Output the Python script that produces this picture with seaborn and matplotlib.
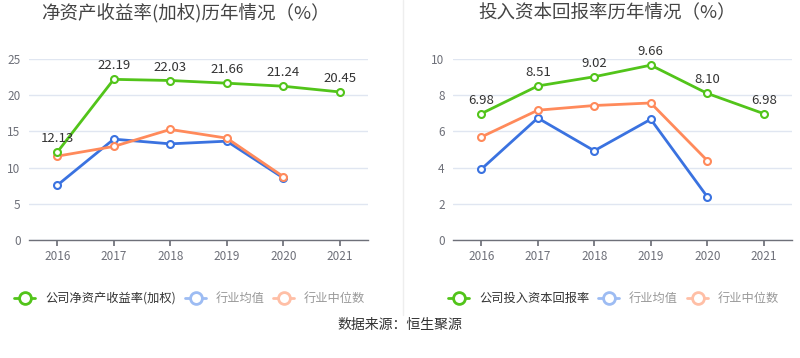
import matplotlib
matplotlib.use("Agg")
import matplotlib.pyplot as plt
from matplotlib.lines import Line2D
import seaborn as sns
import pandas as pd

years = ["2016", "2017", "2018", "2019", "2020", "2021"]
ind_years = ["2016", "2017", "2018", "2019", "2020"]

roe_company = [12.13, 22.19, 22.03, 21.66, 21.24, 20.45]
roe_ind_mean = [7.56, 13.93, 13.28, 13.65, 8.58]
roe_ind_median = [11.58, 12.92, 15.27, 14.07, 8.76]

roic_company = [6.98, 8.51, 9.02, 9.66, 8.10, 6.98]
roic_ind_mean = [3.91, 6.74, 4.93, 6.67, 2.39]
roic_ind_median = [5.69, 7.17, 7.43, 7.57, 4.39]

left_title = "净资产收益率(加权)历年情况（%）"
right_title = "投入资本回报率历年情况（%）"
left_names = ["公司净资产收益率(加权)", "行业均值", "行业中位数"]
right_names = ["公司投入资本回报率", "行业均值", "行业中位数"]
source = "数据来源：恒生聚源"

GREEN = "#52c41a"
BLUE = "#3a72e0"
ORANGE = "#ff8a5b"
GREEN_L = "#52c41a"
BLUE_L = "#9dbcf3"
ORANGE_L = "#ffbfa6"

sns.set_theme(style="white")
plt.rcParams['font.family'] = ['Noto Sans CJK SC', 'DejaVu Sans']

W, H = 800, 358
fig = plt.figure(figsize=(8, 3.58), dpi=100)

def make_df(company, mean, median, names):
    rows = []
    for y, v in zip(years, company):
        rows.append((y, v, names[0]))
    for y, v in zip(ind_years, mean):
        rows.append((y, v, names[1]))
    for y, v in zip(ind_years, median):
        rows.append((y, v, names[2]))
    return pd.DataFrame(rows, columns=["year", "value", "series"])

def draw(ax, company, mean, median, names, ymax, yticks, title, title_x):
    df = make_df(company, mean, median, names)
    df["year"] = pd.Categorical(df["year"], categories=years, ordered=True)
    df["xpos"] = df["year"].cat.codes
    order = [names[1], names[2], names[0]]
    pal = {names[0]: GREEN, names[1]: BLUE, names[2]: ORANGE}
    for nm in order:
        sub = df[df["series"] == nm]
        sns.lineplot(data=sub, x="xpos", y="value", ax=ax, color=pal[nm],
                     linewidth=2, marker="o", markersize=5,
                     markerfacecolor="white", markeredgecolor=pal[nm],
                     markeredgewidth=1.5, legend=False, zorder=3)
    for i, v in enumerate(company):
        ax.annotate(f"{v:.2f}", (i, v), xytext=(0, 5), textcoords="offset points",
                    ha="center", va="bottom", fontsize=9.5, color="#333333")
    ax.set_xlim(-0.5, len(years) - 0.5)
    ax.set_ylim(0, ymax)
    ax.set_yticks(yticks)
    ax.set_xticks(range(len(years)))
    ax.set_xticklabels(years)
    ax.set_xlabel("")
    ax.set_ylabel("")
    ax.grid(axis="y", color="#e0e6f1", linewidth=1)
    ax.set_axisbelow(True)
    for s in ["top", "right", "left"]:
        ax.spines[s].set_visible(False)
    ax.spines["bottom"].set_color("#6e7079")
    ax.spines["bottom"].set_linewidth(1)
    ax.tick_params(axis="x", length=4, color="#6e7079", labelsize=8.5,
                   labelcolor="#6e7079", pad=3, bottom=True)
    ax.tick_params(axis="y", length=0, labelsize=8.5, labelcolor="#6e7079", pad=6)
    fig.text(title_x, 1 - 13 / H, title, ha="center", va="center",
             fontsize=13.3, color="#444444")

ax1 = fig.add_axes([29 / W, 1 - 240 / H, 339 / W, 181 / H])
ax2 = fig.add_axes([453 / W, 1 - 240 / H, 339 / W, 181 / H])

draw(ax1, roe_company, roe_ind_mean, roe_ind_median, left_names, 25,
     [0, 5, 10, 15, 20, 25], left_title, 185 / W)
draw(ax2, roic_company, roic_ind_mean, roic_ind_median, right_names, 10,
     [0, 2, 4, 6, 8, 10], right_title, 607 / W)

# separator
fig.add_artist(Line2D([403 / W, 403 / W], [1.0, 1 - 315 / H],
                      transform=fig.transFigure, color="#eeeeee", linewidth=1))

def legend_item(x0, name, col, tcol):
    y = 1 - 298 / H
    fig.add_artist(Line2D([x0 / W, (x0 + 21) / W], [y, y], transform=fig.transFigure,
                          color=col, linewidth=2))
    fig.add_artist(Line2D([(x0 + 10.5) / W], [y], transform=fig.transFigure,
                          color=col, marker="o", markersize=8.5,
                          markerfacecolor="white", markeredgecolor=col,
                          markeredgewidth=2, linestyle="none"))
    fig.text((x0 + 31) / W, y, name, ha="left", va="center", fontsize=8.8,
             color=tcol)

cols = [GREEN_L, BLUE_L, ORANGE_L]
tcols = ["#333333", "#999999", "#999999"]
for x0, nm, c, tc in zip([14, 185, 273], left_names, cols, tcols):
    legend_item(x0, nm, c, tc)
for x0, nm, c, tc in zip([448, 598, 687], right_names, cols, tcols):
    legend_item(x0, nm, c, tc)

fig.text(400 / W, 1 - 325 / H, source, ha="center", va="center",
         fontsize=10, color="#333333")

fig.savefig("out.png", dpi=100)
